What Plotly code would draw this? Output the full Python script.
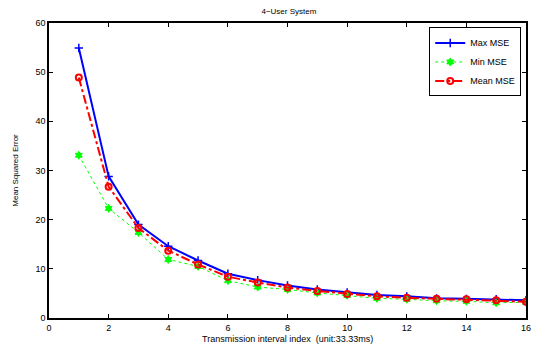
import plotly.graph_objects as go

x_idx = list(range(1, 17))
max_mse = [54.9, 28.8, 19.0, 14.6, 11.7, 9.0, 7.7, 6.6, 5.8, 5.2, 4.7, 4.4, 4.0, 3.9, 3.8, 3.6]
min_mse = [33.1, 22.3, 17.4, 11.9, 10.5, 7.6, 6.3, 5.8, 5.1, 4.6, 4.0, 3.8, 3.5, 3.4, 3.1, 3.2]
mean_mse = [48.9, 26.7, 18.3, 13.7, 10.9, 8.4, 7.2, 6.2, 5.5, 4.9, 4.4, 4.1, 3.9, 3.8, 3.6, 3.3]

x_ticks = list(range(0, 17, 2))
y_ticks = list(range(0, 61, 10))

font = "Liberation Sans, Arial, sans-serif"

fig = go.Figure()
fig.add_trace(go.Scatter(
    x=x_idx, y=max_mse, name="Max MSE", mode="lines+markers",
    line=dict(color="#0000ff", width=2),
    marker=dict(symbol="cross-thin", size=6, line=dict(color="#0000ff", width=1.5)),
))
fig.add_trace(go.Scatter(
    x=x_idx, y=min_mse, name="Min MSE", mode="lines+markers",
    line=dict(color="#00ff00", width=1, dash="dot"),
    marker=dict(symbol="hexagram", size=6, color="#00ff00", line=dict(color="#00ff00", width=1)),
))
fig.add_trace(go.Scatter(
    x=x_idx, y=mean_mse, name="Mean MSE", mode="lines+markers",
    line=dict(color="#ff0000", width=2, dash="dashdot"),
    marker=dict(symbol="circle-open", size=6, color="#ff0000", line=dict(color="#ff0000", width=2)),
))

axis_common = dict(
    showline=True, linecolor="black", linewidth=1.5, mirror="ticks",
    ticks="inside", ticklen=4, tickcolor="black", showgrid=False, zeroline=False,
    tickfont=dict(family=font, size=9, color="black"),
)

fig.update_layout(
    width=535, height=349,
    margin=dict(l=49, r=4, t=23, b=31),
    paper_bgcolor="white", plot_bgcolor="white",
    title=dict(text="4\u2212User System", x=0.54, xanchor="center", y=0.975, yanchor="top",
               font=dict(family=font, size=8, color="black")),
    xaxis=dict(range=[0, 16], tickvals=x_ticks, **axis_common),
    yaxis=dict(range=[0, 60], tickvals=y_ticks, **axis_common,
               title=dict(text="Mean Squared Error", standoff=16,
                          font=dict(family=font, size=8, color="black"))),
    legend=dict(x=0.99, y=0.985, xanchor="right", yanchor="top",
                bgcolor="white", bordercolor="black", borderwidth=1,
                font=dict(family=font, size=9, color="black"),
                tracegroupgap=0, itemwidth=30),
    showlegend=True,
    annotations=[dict(text="Transmission interval index  (unit:33.33ms)",
                      xref="paper", yref="paper", x=0.5, y=0, xanchor="center", yanchor="top",
                      yshift=-14, showarrow=False,
                      font=dict(family=font, size=9, color="black"))],
)

fig.write_html("out.html")
